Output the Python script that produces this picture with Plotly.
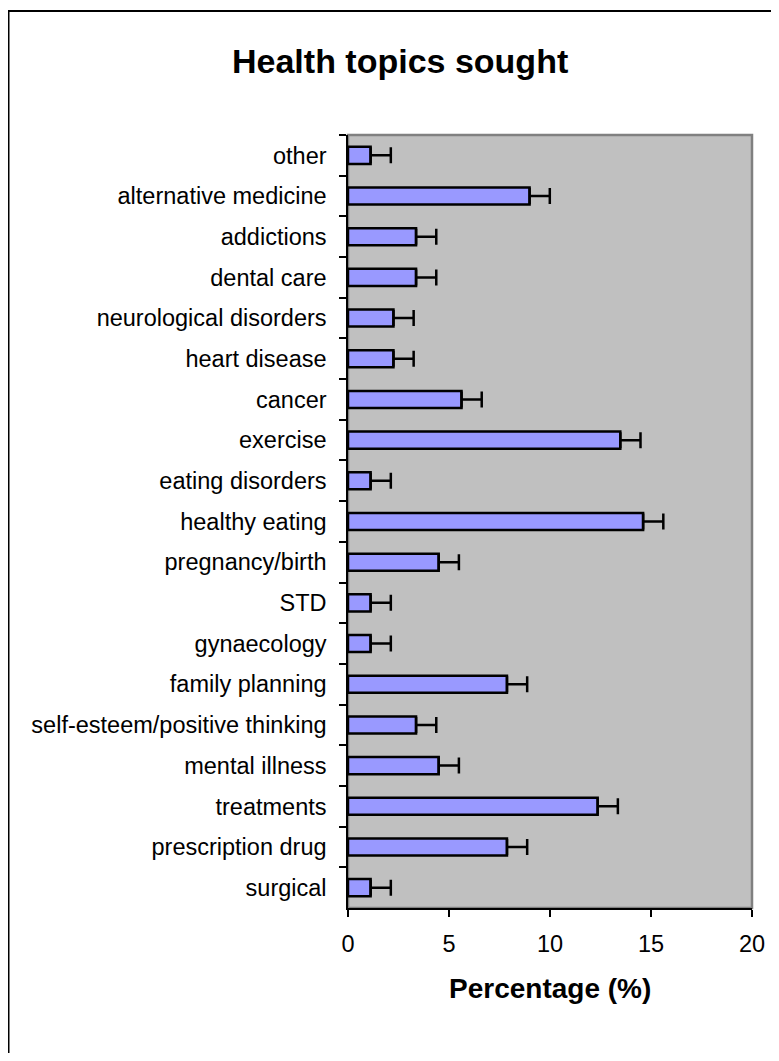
import plotly.graph_objects as go

categories = ["other", "alternative medicine", "addictions", "dental care",
              "neurological disorders", "heart disease", "cancer", "exercise",
              "eating disorders", "healthy eating", "pregnancy/birth", "STD",
              "gynaecology", "family planning", "self-esteem/positive thinking",
              "mental illness", "treatments", "prescription drug", "surgical"]
values = [1.12, 8.99, 3.37, 3.37, 2.25, 2.25, 5.62, 13.48, 1.12, 14.61,
          4.49, 1.12, 1.12, 7.87, 3.37, 4.49, 12.36, 7.87, 1.12]
errors = [1.0] * len(values)
x_ticks = [0, 5, 10, 15, 20]

# page body has an 8px margin; work in page pixels and convert
OFF = 8
W, H = 779 - OFF, 1061 - 2 * OFF
L, R, T, B = 348 - OFF, 752 - OFF, 135 - OFF, 908 - OFF
pw, ph = R - L, B - T

def px(x):
    return (x - OFF - L) / pw

def py(y):
    return (B - (y - OFF)) / ph

FONT = "Arial, Liberation Sans, sans-serif"

fig = go.Figure(go.Bar(
    x=values, y=categories, orientation="h",
    marker=dict(color="#9999FF", line=dict(color="black", width=2.5)),
    error_x=dict(type="data", array=errors, arrayminus=[0] * len(values),
                 symmetric=False, color="black", thickness=2.5, width=8),
))

fig.update_layout(
    width=W, height=H,
    margin=dict(l=L, r=W - R, t=T, b=H - B, pad=0),
    paper_bgcolor="white", plot_bgcolor="#C0C0C0",
    bargap=0.58, showlegend=False,
    font=dict(family=FONT, size=23.5, color="black"),
    xaxis=dict(range=[0, 20], tickvals=x_ticks, ticks="outside", ticklen=7,
               tickcolor="black", tickwidth=1.5, showline=True, linecolor="black",
               linewidth=1.5, showgrid=False, zeroline=False,
               ticklabelstandoff=7, tickfont=dict(size=23.5)),
    yaxis=dict(autorange="reversed", ticks="outside", tickson="boundaries",
               ticklen=7, tickcolor="black", tickwidth=1.5, showline=True,
               linecolor="black", linewidth=1.5, showgrid=False,
               ticklabelstandoff=15, tickfont=dict(size=23.5)),
    shapes=[
        dict(type="rect", xref="paper", yref="paper", x0=0, x1=1, y0=0, y1=1,
             line=dict(color="#808080", width=2.5), layer="below"),
        dict(type="path", xref="paper", yref="paper",
             path=f"M {px(8.5)},{py(1100)} L {px(8.5)},{py(11)} L {px(820)},{py(11)}",
             line=dict(color="black", width=2)),
    ],
    annotations=[
        dict(text="<b>Health topics sought</b>", xref="paper", yref="paper",
             x=px(400), y=py(61), xanchor="center", yanchor="middle",
             showarrow=False, font=dict(size=34, family=FONT)),
        dict(text="<b>Percentage (%)</b>", xref="paper", yref="paper",
             x=px(550), y=py(988), xanchor="center", yanchor="middle",
             showarrow=False, font=dict(size=28, family=FONT)),
    ],
)

fig.write_html("out.html")
